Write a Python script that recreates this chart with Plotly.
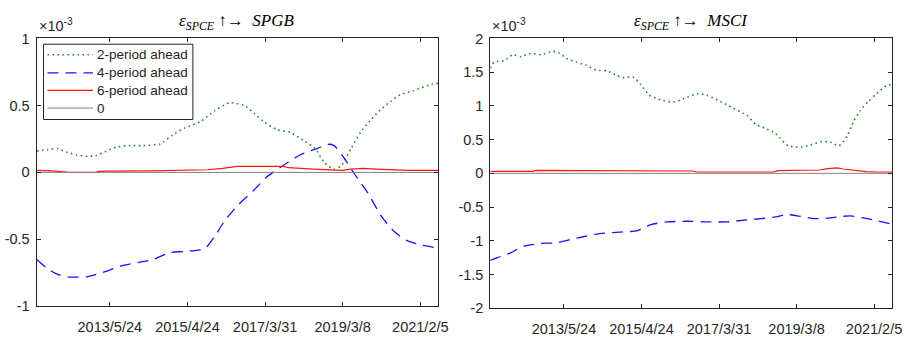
import plotly.graph_objects as go

# ---------------- data (values in units of 1e-3) ----------------
# Left panel: eps_SPCE -> SPGB
spgb_x_2 = [6, 20, 33, 45, 58, 71, 82, 96, 109, 125, 143, 165, 181, 196, 217, 235, 254, 273, 286, 298,
            315, 332, 349, 364, 377, 389, 398, 411, 423, 436, 449, 462, 474, 491, 516, 523]
spgb_2 = [0.16, 0.17, 0.177, 0.15, 0.13, 0.12, 0.125, 0.16, 0.19, 0.20, 0.20, 0.213, 0.28, 0.33, 0.38,
          0.46, 0.52, 0.50, 0.44, 0.38, 0.32, 0.30, 0.24, 0.18, 0.07, 0.024, 0.05, 0.18, 0.30, 0.39,
          0.47, 0.53, 0.58, 0.61, 0.66, 0.665]

spgb_x_4 = [6, 20, 32, 46, 71, 92, 114, 139, 156, 177, 196, 222, 235, 247, 264, 286, 302, 319, 345,
            368, 381, 389, 402, 415, 432, 449, 466, 483, 500, 513, 523]
spgb_4 = [-0.65, -0.72, -0.76, -0.78, -0.78, -0.745, -0.70, -0.67, -0.65, -0.60, -0.59, -0.57, -0.48,
          -0.37, -0.25, -0.13, -0.035, 0.035, 0.13, 0.18, 0.21, 0.20, 0.106, -0.01, -0.15, -0.32,
          -0.44, -0.51, -0.54, -0.555, -0.57]

spgb_x_6 = [6, 25, 44, 60, 82, 86, 94, 150, 200, 226, 245, 264, 324, 330, 362, 383, 400, 410, 426,
            443, 460, 485, 523]
spgb_6 = [0.015, 0.012, 0.003, 0.0, 0.0, 0.008, 0.01, 0.012, 0.015, 0.02, 0.03, 0.045, 0.045, 0.035,
          0.025, 0.02, 0.015, 0.025, 0.03, 0.025, 0.02, 0.015, 0.015]

# Right panel: eps_SPCE -> MSCI
msci_x_2 = [5, 10, 23, 34, 44, 57, 70, 85, 93, 104, 116, 129, 142, 155, 167, 176, 189, 199, 210, 225,
            242, 255, 272, 284, 301, 318, 336, 348, 359, 372, 378, 389, 406, 418, 431, 444, 455, 465,
            474, 482, 493, 503, 516, 523]
msci_2 = [1.56, 1.65, 1.67, 1.76, 1.73, 1.78, 1.76, 1.81, 1.79, 1.70, 1.65, 1.60, 1.53, 1.52, 1.46,
          1.42, 1.43, 1.32, 1.16, 1.09, 1.06, 1.11, 1.18, 1.16, 1.07, 0.97, 0.86, 0.72, 0.67, 0.60,
          0.53, 0.41, 0.39, 0.42, 0.47, 0.46, 0.41, 0.55, 0.78, 0.93, 1.07, 1.18, 1.30, 1.32]

msci_x_4 = [5, 14, 31, 48, 70, 91, 108, 125, 142, 172, 195, 212, 233, 259, 284, 310, 336, 355, 376,
            387, 401, 423, 444, 457, 470, 486, 503, 521]
msci_4 = [-1.29, -1.25, -1.18, -1.08, -1.04, -1.03, -0.98, -0.94, -0.90, -0.87, -0.85, -0.76, -0.72,
          -0.71, -0.72, -0.72, -0.69, -0.67, -0.64, -0.61, -0.63, -0.67, -0.66, -0.64, -0.63, -0.66,
          -0.70, -0.75]

msci_x_6 = [5, 60, 64, 205, 210, 266, 272, 370, 376, 405, 410, 430, 440, 452, 460, 470, 480, 490,
            505, 523]
msci_6 = [0.03, 0.03, 0.045, 0.045, 0.035, 0.035, 0.02, 0.02, 0.04, 0.04, 0.05, 0.05, 0.07, 0.08,
          0.065, 0.05, 0.04, 0.025, 0.02, 0.02]

zero_x = [0, 530]
zero_y = [0, 0]

tick_vals = [100, 200, 300, 400, 500]
tick_text = ["2013/5/24", "2015/4/24", "2017/3/31", "2019/3/8", "2021/2/5"]
left_yticks = [-1, -0.5, 0, 0.5, 1]
left_ytext = ["-1", "-0.5", "0", "0.5", "1"]
right_yticks = [-2, -1.5, -1, -0.5, 0, 0.5, 1, 1.5, 2]
right_ytext = ["-2", "-1.5", "-1", "-0.5", "0", "0.5", "1", "1.5", "2"]

legend_names = ["2-period ahead", "4-period ahead", "6-period ahead", "0"]

# ---------------- styles ----------------
W, H = 920, 341
GREEN = "rgb(40,135,40)"
BLUE = "rgb(20,20,255)"
RED = "rgb(255,20,20)"
ZERO = "rgb(130,130,130)"
AX = "#262626"
FONT = "Liberation Sans, Arial, sans-serif"
STYLES = [
    dict(color=GREEN, width=1.6, dash="1.6px,3.4px"),
    dict(color=BLUE, width=1.3, dash="11px,7px"),
    dict(color=RED, width=1.2),
    dict(color=ZERO, width=1),
]

fig = go.Figure()

def add_panel(xa, ya, xs2, ys2, xs4, ys4, xs6, ys6):
    fig.add_trace(go.Scatter(x=xs2, y=ys2, mode="lines", name=legend_names[0],
                             line=dict(shape="spline", smoothing=0.6, **STYLES[0]), xaxis=xa, yaxis=ya))
    fig.add_trace(go.Scatter(x=xs4, y=ys4, mode="lines", name=legend_names[1],
                             line=dict(shape="spline", smoothing=0.6, **STYLES[1]), xaxis=xa, yaxis=ya))
    fig.add_trace(go.Scatter(x=xs6, y=ys6, mode="lines", name=legend_names[2],
                             line=STYLES[2], xaxis=xa, yaxis=ya))
    fig.add_trace(go.Scatter(x=zero_x, y=zero_y, mode="lines", name=legend_names[3],
                             line=STYLES[3], xaxis=xa, yaxis=ya))

add_panel("x", "y", spgb_x_2, spgb_2, spgb_x_4, spgb_4, spgb_x_6, spgb_6)
add_panel("x2", "y2", msci_x_2, msci_2, msci_x_4, msci_4, msci_x_6, msci_6)

axis_common = dict(showline=True, linecolor=AX, linewidth=1, mirror="ticks", ticks="inside",
                   ticklen=4, tickcolor=AX, showgrid=False, zeroline=False,
                   tickfont=dict(family=FONT, size=14.5, color=AX))

fig.update_layout(
    width=W, height=H,
    margin=dict(l=0, r=0, t=0, b=0),
    paper_bgcolor="white", plot_bgcolor="white",
    showlegend=False,
    xaxis=dict(domain=[37 / W, 443 / W], range=[5.7, 523], tickvals=tick_vals, ticktext=tick_text,
               anchor="y", ticklabelstandoff=7, **axis_common),
    yaxis=dict(domain=[1 - 313 / H, 1 - 32 / H], range=[-1, 1], tickvals=left_yticks,
               ticktext=left_ytext, anchor="x", ticklabelstandoff=3, **axis_common),
    xaxis2=dict(domain=[495.7 / W, 902 / W], range=[5, 523.4], tickvals=tick_vals, ticktext=tick_text,
                anchor="y2", ticklabelstandoff=7, **axis_common),
    yaxis2=dict(domain=[1 - 315 / H, 1 - 32 / H], range=[-2, 2], tickvals=right_yticks,
                ticktext=right_ytext, anchor="x2", ticklabelstandoff=3, **axis_common),
)

# custom legend box (left panel, top-left corner)
LX0, LX1, LY0, LY1 = 44, 195, 38, 117
fig.add_shape(type="rect", xref="paper", yref="paper", x0=LX0 / W, x1=LX1 / W,
              y0=1 - LY1 / H, y1=1 - LY0 / H, line=dict(color=AX, width=1), fillcolor="white",
              layer="above")
row_y = [49, 68, 86.5, 105]
for name, st, ry in zip(legend_names, STYLES, row_y):
    fig.add_shape(type="line", xref="paper", yref="paper", x0=48 / W, x1=94 / W,
                  y0=1 - ry / H, y1=1 - ry / H, line=st, layer="above")
    fig.add_annotation(xref="paper", yref="paper", x=96 / W, y=1 - ry / H, xanchor="left",
                       yanchor="middle", showarrow=False, text=name,
                       font=dict(family=FONT, size=13.5, color=AX))

# titles and exponent labels
for cx, name in [((37 + 443) / 2, "SPGB"), ((495.7 + 902) / 2, "MSCI")]:
    fig.add_annotation(xref="paper", yref="paper", x=cx / W, y=1 - 15 / H, xanchor="center",
                       yanchor="middle", showarrow=False,
                       text="<i>ε<sub>SPCE</sub></i> ↑→  <i>" + name + "</i>",
                       font=dict(family="Liberation Serif, DejaVu Serif, serif", size=17, color="black"))
for lx in [37, 495.7]:
    fig.add_annotation(xref="paper", yref="paper", x=lx / W, y=1 - 29 / H, xanchor="left",
                       yanchor="bottom", showarrow=False,
                       text="×10<sup>-3</sup>",
                       font=dict(family=FONT, size=14.5, color=AX))

fig.write_html("out.html")
